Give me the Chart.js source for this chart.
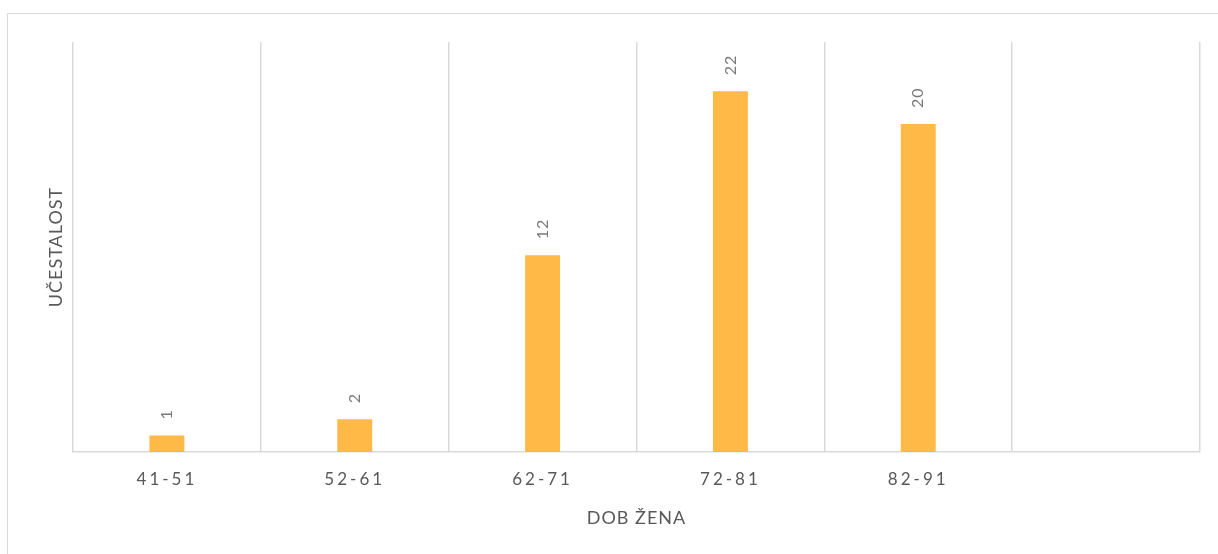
<!DOCTYPE html>
<html>
<head>
<meta charset="utf-8">
<script src="https://cdn.jsdelivr.net/npm/chart.js@4"></script>
<style>
  html, body { margin: 0; padding: 0; background: #fff; overflow: hidden; }
  #frame { position: absolute; left: 7px; top: 13px; width: 1400px; height: 800px; border: 1px solid #d9d9d9; }
  #wrap { position: absolute; left: 0; top: 0; width: 1218px; height: 554px; }
</style>
</head>
<body>
<div id="frame"></div>
<div id="wrap"><canvas id="ageChart"></canvas></div>
<script>
// age groups (last slot is empty in the original)
const ageGroups = ['41-51', '52-61', '62-71', '72-81', '82-91', ''];
const frequency = [1, 2, 12, 22, 20, null];
const xTitle = 'DOB ŽENA';
const yTitle = 'UČESTALOST';

const textGrey = '#595959';
const barColor = '#ffb946';

// ticks get letter spacing; titles and value labels are drawn afterwards
const extras = {
  id: 'extras',
  beforeDraw(chart) {
    chart.ctx.letterSpacing = '3px';
  },
  afterDraw(chart) {
    const ctx = chart.ctx;
    const area = chart.chartArea;
    ctx.save();

    // value labels, rotated like the original
    ctx.letterSpacing = '1px';
    ctx.fillStyle = '#7a7a7a';
    ctx.font = '16px Lato';
    ctx.textAlign = 'left';
    ctx.textBaseline = 'middle';
    chart.getDatasetMeta(0).data.forEach((bar, i) => {
      const v = frequency[i];
      if (v == null) return;
      ctx.save();
      ctx.translate(bar.x, bar.y - 16);
      ctx.rotate(-Math.PI / 2);
      ctx.fillText(String(v), 0, 0);
      ctx.restore();
    });

    // axis titles
    ctx.letterSpacing = '1px';
    ctx.fillStyle = textGrey;
    ctx.font = '18px Lato';
    ctx.textAlign = 'center';
    ctx.textBaseline = 'middle';
    ctx.fillText(xTitle, (area.left + area.right) / 2, 518);

    ctx.translate(56, (area.top + area.bottom) / 2);
    ctx.rotate(-Math.PI / 2);
    ctx.fillText(yTitle, 0, 0);

    ctx.restore();
    ctx.letterSpacing = '0px';
  }
};

const ctx = document.getElementById('ageChart').getContext('2d');
const ageChart = new Chart(ctx, {
  type: 'bar',
  data: {
    labels: ageGroups,
    datasets: [{
      data: frequency,
      backgroundColor: barColor,
      borderWidth: 0,
      barPercentage: 0.186,
      categoryPercentage: 1
    }]
  },
  options: {
    responsive: true,
    maintainAspectRatio: false,
    animation: false,
    layout: { padding: { left: 73, right: 18, top: 42, bottom: 0 } },
    plugins: {
      legend: { display: false },
      tooltip: { enabled: false }
    },
    scales: {
      x: {
        grid: { color: '#d9d9d9', lineWidth: 1.5, drawTicks: false, offset: true },
        border: { color: '#d9d9d9', width: 1.5 },
        ticks: {
          color: textGrey,
          font: { family: 'Lato', size: 17 },
          padding: 17,
          autoSkip: false,
          maxRotation: 0
        },
        afterFit(scale) { scale.height = 102; }
      },
      y: {
        display: false,
        min: 0,
        max: 25
      }
    }
  },
  plugins: [extras]
});
</script>
</body>
</html>
